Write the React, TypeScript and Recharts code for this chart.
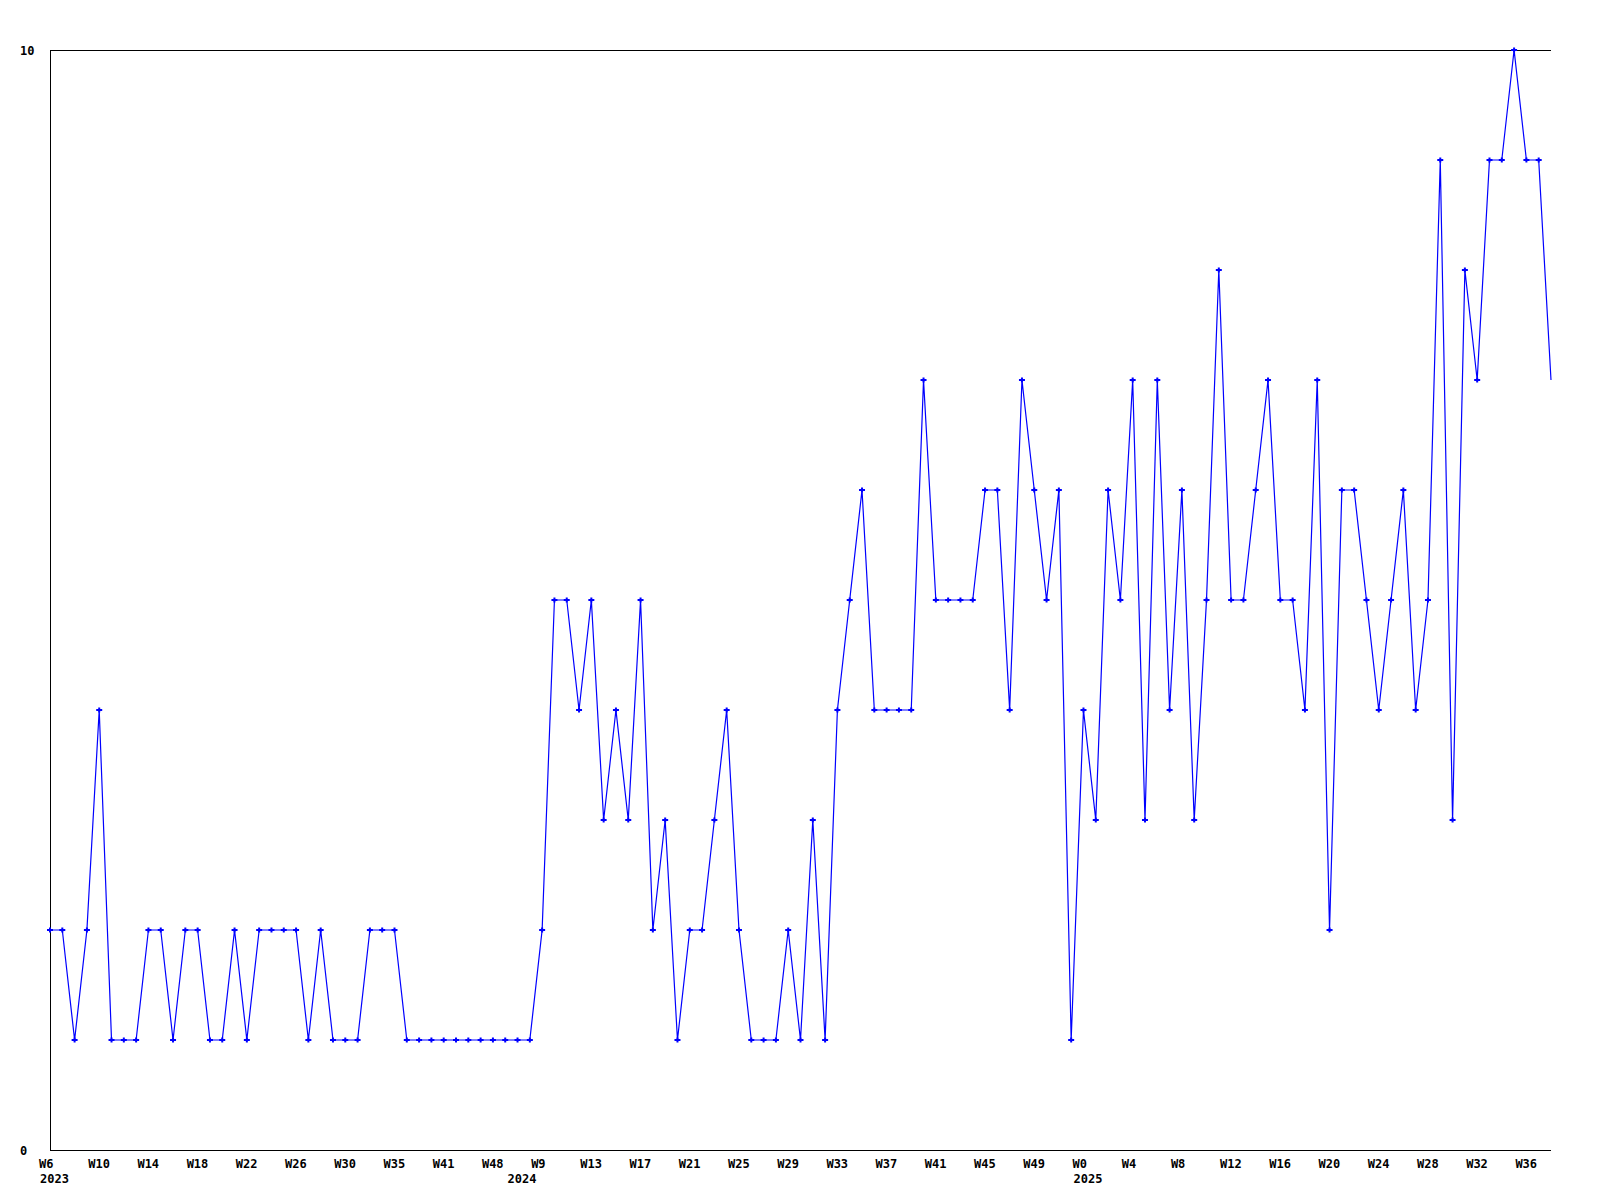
import { LineChart, Line, XAxis, YAxis, ReferenceLine } from "recharts";

// weekly values, one per point (123 weeks)
const values = [
  2, 2, 1, 2, 4, 1, 1, 1, 2, 2,
  1, 2, 2, 1, 1, 2, 1, 2, 2, 2,
  2, 1, 2, 1, 1, 1, 2, 2, 2, 1,
  1, 1, 1, 1, 1, 1, 1, 1, 1, 1,
  2, 5, 5, 4, 5, 3, 4, 3, 5, 2,
  3, 1, 2, 2, 3, 4, 2, 1, 1, 1,
  2, 1, 3, 1, 4, 5, 6, 4, 4, 4,
  4, 7, 5, 5, 5, 5, 6, 6, 4, 7,
  6, 5, 6, 1, 4, 3, 6, 5, 7, 3,
  7, 4, 6, 3, 5, 8, 5, 5, 6, 7,
  5, 5, 4, 7, 2, 6, 6, 5, 4, 5,
  6, 4, 5, 9, 3, 8, 7, 9, 9, 10,
  9, 9, 7,
];

// one label every 4th point
const weekLabels = [
  "W6", "W10", "W14", "W18", "W22", "W26", "W30", "W35", "W41", "W48",
  "W9", "W13", "W17", "W21", "W25", "W29", "W33", "W37", "W41", "W45", "W49",
  "W0", "W4", "W8", "W12", "W16", "W20", "W24", "W28", "W32", "W36",
];

const years = ["2023", "2024", "2025"];
const yearStarts = [0, 38, 84];

const yTicks = [0, 10];

const data = values.map((v, i) => ({ i, v }));
const weekTicks = weekLabels.map((_, k) => k * 4);
const allTicks = Array.from(new Set([...weekTicks, ...yearStarts])).sort((a, b) => a - b);

const font = "'DejaVu Sans Mono', monospace";
const blue = "#0000ff";

function XTick(props: any) {
  const { x, y, payload } = props;
  const idx = payload.value;
  const week = idx % 4 === 0 ? weekLabels[idx / 4] : null;
  const yi = yearStarts.indexOf(idx);
  return (
    <g>
      {week && (
        <text x={x - 11} y={y + 17.5} textAnchor="start" fontFamily={font} fontWeight="bold" fontSize={12} fill="#000">
          {week}
        </text>
      )}
      {yi >= 0 && (
        <text x={x - 10} y={y + 32.5} textAnchor="start" fontFamily={font} fontWeight="bold" fontSize={12} fill="#000">
          {years[yi]}
        </text>
      )}
    </g>
  );
}

function YTick(props: any) {
  const { y, payload } = props;
  return (
    <text x={20} y={y + 4.5} textAnchor="start" fontFamily={font} fontWeight="bold" fontSize={12} fill="#000">
      {payload.value}
    </text>
  );
}

function Marker(props: any) {
  const { cx, cy, index } = props;
  if (index === values.length - 1 || cx == null) return <g key={"d" + index} />;
  return (
    <g key={"d" + index}>
      <rect x={cx - 3} y={cy - 1} width={6} height={2} fill={blue} />
      <rect x={cx - 1} y={cy - 2.5} width={2} height={5} fill={blue} />
    </g>
  );
}

export default function App() {
  return (
    <div style={{ position: "absolute", left: 0, top: 0, background: "#fff" }}>
      <LineChart
        width={1600}
        height={1200}
        data={data}
        margin={{ top: 50, right: 49, left: 0, bottom: 0 }}
      >
        <XAxis
          dataKey="i"
          type="number"
          domain={[0, values.length - 1]}
          ticks={allTicks}
          interval={0}
          height={50}
          tickSize={0}
          tickMargin={0}
          tickLine={false}
          axisLine={{ stroke: "#000", shapeRendering: "crispEdges" }}
          tick={<XTick />}
        />
        <YAxis
          type="number"
          domain={[0, 10]}
          ticks={yTicks}
          interval={0}
          width={50}
          tickLine={false}
          axisLine={{ stroke: "#000", shapeRendering: "crispEdges" }}
          tick={<YTick />}
        />
        <ReferenceLine y={10} stroke="#000" shapeRendering="crispEdges" />
        <Line
          type="linear"
          dataKey="v"
          stroke={blue}
          strokeWidth={1.2}
          dot={Marker}
          activeDot={false}
          isAnimationActive={false}
        />
      </LineChart>
    </div>
  );
}
